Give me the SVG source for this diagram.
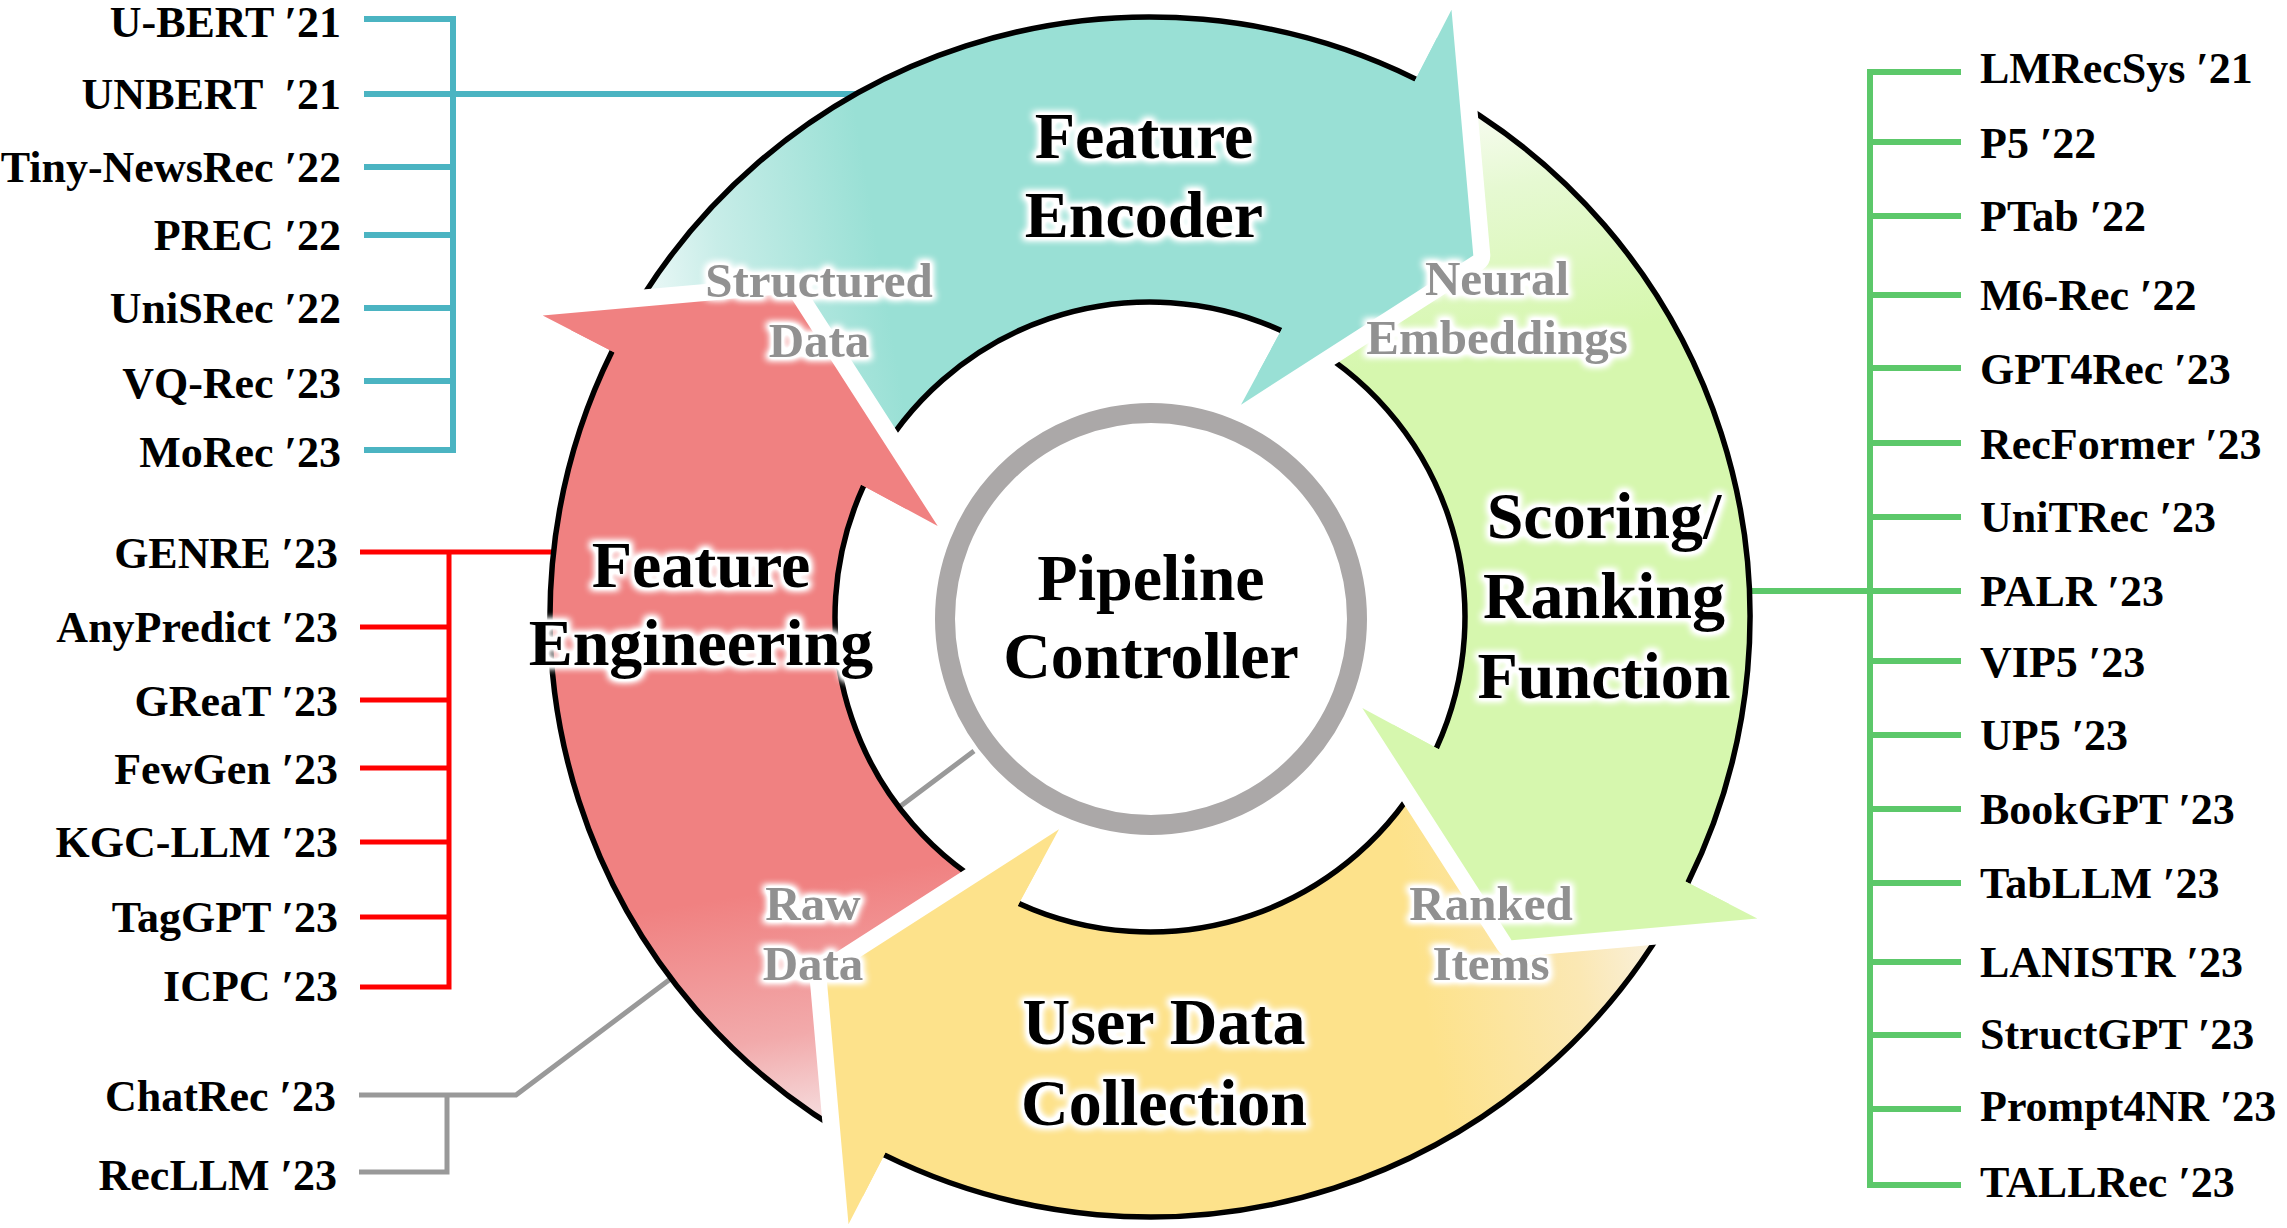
<svg xmlns="http://www.w3.org/2000/svg" xmlns:xlink="http://www.w3.org/1999/xlink" width="2287" height="1228" viewBox="0 0 2287 1228">
  <style>
    .side{font-family:"Liberation Serif","Times New Roman",serif;font-weight:bold;font-size:44px;fill:#000}
    .left{text-anchor:end}
    .big{font-family:"Liberation Serif","Times New Roman",serif;font-weight:bold;font-size:66px;text-anchor:middle;fill:#000}
    .flow{font-family:"Liberation Serif","Times New Roman",serif;font-weight:bold;font-size:49px;text-anchor:middle;fill:#919191}
    .rim{fill:none;stroke:#000;stroke-width:5.5}
    .gap{fill:none;stroke:#fff;stroke-width:34;stroke-linejoin:round;stroke-linecap:round}
    .wire{fill:none;stroke-linejoin:miter}
  </style>
  <defs>
    <!-- one cycle segment, drawn for the top (encoder) position; the others are rotated copies about (1150,617) -->
    <path id="segBody" d="M620.2 335.3A600 600 0 0 1 1415.8 79.1L1451.5 9.7L1473.3 255.4L1241 404.7L1281.1 330.6A315 315 0 0 0 871.9 469.1Z"/>
    <path id="segRims" d="M620.2 335.3A600 600 0 0 1 1415.8 79.1M1281.1 330.6A315 315 0 0 0 871.9 469.1"/>
    <path id="segHead" d="M1415.8 79.1L1451.5 9.7L1473.3 255.4L1241 404.7L1281.1 330.6Z"/>
    <path id="segHeadEdge" d="M1451.5 9.7L1473.3 255.4L1241 404.7"/>

    <!-- tail fades, expressed in the segment's own frame -->
    <linearGradient id="gTeal" gradientUnits="userSpaceOnUse" x1="640" y1="300" x2="880" y2="260">
      <stop offset="0" stop-color="#eef9f8"/>
      <stop offset="0.35" stop-color="#c8ede8"/>
      <stop offset="1" stop-color="#99e0d5"/>
    </linearGradient>
    <linearGradient id="gGreen" gradientUnits="userSpaceOnUse" x1="640" y1="300" x2="880" y2="260">
      <stop offset="0" stop-color="#f8fcf2"/>
      <stop offset="0.35" stop-color="#e6f9d2"/>
      <stop offset="1" stop-color="#d6f7ae"/>
    </linearGradient>
    <linearGradient id="gYellow" gradientUnits="userSpaceOnUse" x1="640" y1="300" x2="880" y2="260">
      <stop offset="0" stop-color="#f9f1df"/>
      <stop offset="0.35" stop-color="#fbe8b4"/>
      <stop offset="1" stop-color="#fde28b"/>
    </linearGradient>
    <linearGradient id="gRed" gradientUnits="userSpaceOnUse" x1="640" y1="300" x2="880" y2="260">
      <stop offset="0" stop-color="#f6e2e3"/>
      <stop offset="0.4" stop-color="#f2aaab"/>
      <stop offset="1" stop-color="#f08181"/>
    </linearGradient>

    <!-- soft white halo behind labels -->
    <filter id="halo" x="-15%" y="-35%" width="130%" height="170%" color-interpolation-filters="sRGB">
      <feMorphology in="SourceAlpha" operator="dilate" radius="2.5" result="thick"/>
      <feGaussianBlur in="thick" stdDeviation="3.5" result="soft"/>
      <feComponentTransfer in="soft" result="soft2"><feFuncA type="linear" slope="1.6"/></feComponentTransfer>
      <feFlood flood-color="#fff" result="white"/>
      <feComposite in="white" in2="soft2" operator="in" result="glow"/>
      <feMerge><feMergeNode in="glow"/><feMergeNode in="SourceGraphic"/></feMerge>
    </filter>
  </defs>

  <rect width="2287" height="1228" fill="#fff"/>

  <!-- bracket connectors from the paper lists to the cycle -->
  <g id="connectors">
    <path class="wire" stroke="#4bb4c2" stroke-width="6" d="M364 19H453V450H364M364 94H862M364 167H453M364 235H453M364 308H453M364 381H453"/>
    <path class="wire" stroke="#ff0000" stroke-width="5" d="M360 552H562M449 552V987H360M360 627H449M360 700H449M360 768H449M360 842H449M360 917H449"/>
    <path class="wire" stroke="#999999" stroke-width="5" d="M359 1095H516L974 751M447 1095V1172H359"/>
    <path class="wire" stroke="#5cc86a" stroke-width="6" d="M1961 72H1870V1185H1961M1744 591H1961M1870 142H1961M1870 216H1961M1870 295H1961M1870 368H1961M1870 443H1961M1870 517H1961M1870 661H1961M1870 735H1961M1870 809H1961M1870 883H1961M1870 962H1961M1870 1035H1961M1870 1109H1961"/>
  </g>

  <!-- cycle segments -->
  <g id="cycle">
    <g id="feature-encoder">
      <use xlink:href="#segBody" href="#segBody" fill="url(#gTeal)"/>
      <use xlink:href="#segRims" href="#segRims" class="rim"/>
    </g>
    <g id="scoring-ranking" transform="rotate(90 1150 617)">
      <use xlink:href="#segBody" href="#segBody" fill="url(#gGreen)"/>
      <use xlink:href="#segRims" href="#segRims" class="rim"/>
    </g>
    <g id="user-data-collection" transform="rotate(180 1150 617)">
      <use xlink:href="#segBody" href="#segBody" fill="url(#gYellow)"/>
      <use xlink:href="#segRims" href="#segRims" class="rim"/>
    </g>
    <g id="feature-engineering" transform="rotate(270 1150 617)">
      <use xlink:href="#segBody" href="#segBody" fill="url(#gRed)"/>
      <use xlink:href="#segRims" href="#segRims" class="rim"/>
    </g>
  </g>

  <!-- arrowheads laid over the following segment's tail, with a white gap -->
  <g id="arrowheads">
    <g>
      <use xlink:href="#segHeadEdge" href="#segHeadEdge" class="gap"/>
      <use xlink:href="#segHead" href="#segHead" fill="url(#gTeal)"/>
    </g>
    <g transform="rotate(90 1150 617)">
      <use xlink:href="#segHeadEdge" href="#segHeadEdge" class="gap"/>
      <use xlink:href="#segHead" href="#segHead" fill="url(#gGreen)"/>
    </g>
    <g transform="rotate(180 1150 617)">
      <use xlink:href="#segHeadEdge" href="#segHeadEdge" class="gap"/>
      <use xlink:href="#segHead" href="#segHead" fill="url(#gYellow)"/>
    </g>
    <g transform="rotate(270 1150 617)">
      <use xlink:href="#segHeadEdge" href="#segHeadEdge" class="gap"/>
      <use xlink:href="#segHead" href="#segHead" fill="url(#gRed)"/>
    </g>
  </g>

  <!-- central controller -->
  <g id="pipeline-controller">
    <circle cx="1151" cy="619" r="206" fill="#fff" stroke="#aba8a8" stroke-width="20"/>
    <text class="big" filter="url(#halo)"><tspan x="1151" y="600">Pipeline</tspan><tspan x="1151" y="678">Controller</tspan></text>
  </g>

  <!-- stage titles -->
  <g id="stage-labels">
    <text class="big" filter="url(#halo)"><tspan x="1144" y="158">Feature</tspan><tspan x="1144" y="237">Encoder</tspan></text>
    <text class="big" filter="url(#halo)"><tspan x="701" y="587">Feature</tspan><tspan x="701" y="665">Engineering</tspan></text>
    <text class="big" filter="url(#halo)"><tspan x="1604" y="538">Scoring/</tspan><tspan x="1604" y="618">Ranking</tspan><tspan x="1604" y="698">Function</tspan></text>
    <text class="big" filter="url(#halo)"><tspan x="1164" y="1044">User Data</tspan><tspan x="1164" y="1125">Collection</tspan></text>
  </g>

  <!-- data passed between stages -->
  <g id="flow-labels">
    <text class="flow" filter="url(#halo)"><tspan x="819" y="297">Structured</tspan><tspan x="819" y="357">Data</tspan></text>
    <text class="flow" filter="url(#halo)"><tspan x="1497" y="295">Neural</tspan><tspan x="1497" y="354">Embeddings</tspan></text>
    <text class="flow" filter="url(#halo)"><tspan x="813" y="920">Raw</tspan><tspan x="813" y="980">Data</tspan></text>
    <text class="flow" filter="url(#halo)"><tspan x="1491" y="920">Ranked</tspan><tspan x="1491" y="980">Items</tspan></text>
  </g>

  <!-- encoder works -->
  <g id="list-encoder" class="side left">
    <text x="341" y="37">U-BERT ′21</text>
    <text x="341" y="109" xml:space="preserve">UNBERT  ′21</text>
    <text x="341" y="182">Tiny-NewsRec ′22</text>
    <text x="341" y="250">PREC ′22</text>
    <text x="341" y="323">UniSRec ′22</text>
    <text x="341" y="398">VQ-Rec ′23</text>
    <text x="341" y="467">MoRec ′23</text>
  </g>

  <!-- feature engineering works -->
  <g id="list-engineering" class="side left">
    <text x="338" y="568">GENRE ′23</text>
    <text x="338" y="642">AnyPredict ′23</text>
    <text x="338" y="716">GReaT ′23</text>
    <text x="338" y="784">FewGen ′23</text>
    <text x="338" y="857">KGC-LLM ′23</text>
    <text x="338" y="932">TagGPT ′23</text>
    <text x="338" y="1001">ICPC ′23</text>
  </g>

  <!-- controller works -->
  <g id="list-controller" class="side left">
    <text x="336" y="1111">ChatRec ′23</text>
    <text x="337" y="1190">RecLLM ′23</text>
  </g>

  <!-- scoring / ranking works -->
  <g id="list-scoring" class="side" xml:space="preserve">
    <text x="1980" y="83">LMRecSys  ′21</text>
    <text x="1980" y="158">P5  ′22</text>
    <text x="1980" y="231">PTab  ′22</text>
    <text x="1980" y="310">M6-Rec  ′22</text>
    <text x="1980" y="384">GPT4Rec  ′23</text>
    <text x="1980" y="459">RecFormer  ′23</text>
    <text x="1980" y="532">UniTRec  ′23</text>
    <text x="1980" y="606">PALR  ′23</text>
    <text x="1980" y="677">VIP5  ′23</text>
    <text x="1980" y="750">UP5  ′23</text>
    <text x="1980" y="824">BookGPT  ′23</text>
    <text x="1980" y="898">TabLLM  ′23</text>
    <text x="1980" y="977">LANISTR  ′23</text>
    <text x="1980" y="1049">StructGPT  ′23</text>
    <text x="1980" y="1121">Prompt4NR  ′23</text>
    <text x="1980" y="1197">TALLRec  ′23</text>
  </g>
</svg>
